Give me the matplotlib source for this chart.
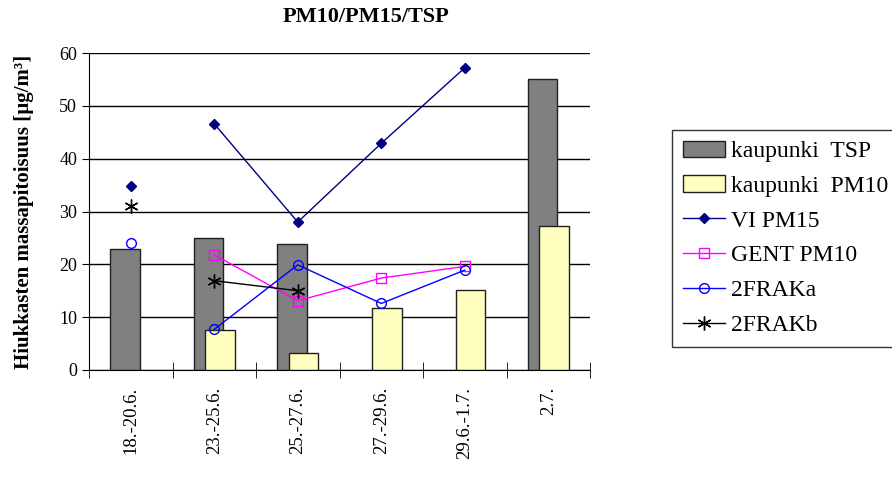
import matplotlib.pyplot as plt
import numpy as np

plt.rcParams['font.family'] = ['Liberation Serif', 'DejaVu Serif']

periods = ['18.-20.6.', '23.-25.6.', '25.-27.6.', '27.-29.6.', '29.6.-1.7.', '2.7.']
tsp_city = [22.9, 25.0, 23.9, np.nan, np.nan, 55.1]
pm10_city = [np.nan, 7.6, 3.2, 11.7, 15.2, 27.3]
vi_pm15 = [34.9, 46.6, 28.0, 42.9, 57.2, np.nan]
gent_pm10 = [np.nan, 21.8, 13.1, 17.4, 19.6, np.nan]
frak_a = [24.1, 7.7, 19.9, 12.6, 18.9, np.nan]
frak_b = [31.1, 16.9, 15.0, np.nan, np.nan, np.nan]

x = np.arange(len(periods))

fig = plt.figure(figsize=(8.92, 4.84), dpi=100)
ax = fig.add_axes([89 / 892, 114 / 484, 501 / 892, 317 / 484])

# bars (TSP behind, PM10 in front)
ax.bar(x - 0.07, tsp_city, width=0.35, color='#808080', edgecolor='#202020',
       linewidth=1, label='kaupunki  TSP', zorder=2)
ax.bar(x + 0.07, pm10_city, width=0.35, color='#ffffc0', edgecolor='#202020',
       linewidth=1, label='kaupunki  PM10', zorder=3)

# first period points are not connected to the rest
lines = [
    (vi_pm15, '#000080', 'D', 5.5, 'VI PM15', dict(markerfacecolor='#000080')),
    (gent_pm10, '#ff00ff', 's', 7, 'GENT PM10', dict(markerfacecolor='none')),
    (frak_a, '#0000ff', 'o', 7, '2FRAKa', dict(markerfacecolor='none')),
    (frak_b, 'black', (6, 2, 0), 10, '2FRAKb', dict()),
]
for vals, c, m, ms, lab, kw in lines:
    ax.plot(x[:1], vals[:1], linestyle='none', marker=m, color=c,
            markersize=ms, markeredgewidth=1, zorder=4, **kw)
    ax.plot(x[1:], vals[1:], color=c, marker=m, markersize=ms, linewidth=1,
            markeredgewidth=1, label=lab, zorder=4, **kw)

ax.set_xlim(-0.5, 5.5)
ax.set_ylim(0, 60)
ax.set_yticks(range(0, 61, 10))
ax.yaxis.grid(True, color='black', linewidth=1)
ax.set_axisbelow(True)
ax.tick_params(axis='y', direction='out', length=5, labelsize=13, color='black')

ax.set_xticks(x)
ax.set_xticklabels(periods, rotation=90, fontsize=13.5)
ax.set_xticks(np.arange(-0.5, 6, 1), minor=True)
ax.tick_params(axis='x', which='major', length=0, pad=12)
ax.tick_params(axis='x', which='minor', direction='inout', length=12, color='black')

for s in ['top', 'right']:
    ax.spines[s].set_visible(False)
ax.spines['left'].set_color('black')
ax.spines['bottom'].set_color('black')

ax.set_ylabel('Hiukkasten massapitoisuus [µg/m³]', fontsize=15,
              fontweight='bold', labelpad=18)
fig.text(0.41, 0.965, 'PM10/PM15/TSP', ha='center', va='center',
         fontsize=16, fontweight='bold')

handles, labels = ax.get_legend_handles_labels()
order = [4, 5, 0, 1, 2, 3]
leg = fig.legend([handles[i] for i in order], [labels[i] for i in order],
                 loc='upper left', bbox_to_anchor=(672 / 892, 1 - 130 / 484),
                 fontsize=17, frameon=True, fancybox=False, edgecolor='black',
                 handlelength=1.8, handleheight=0.7, labelspacing=0.56,
                 borderpad=0.45, handletextpad=0.25, borderaxespad=0)
leg.get_frame().set_linewidth(1)

plt.savefig('out.png', dpi=100)
